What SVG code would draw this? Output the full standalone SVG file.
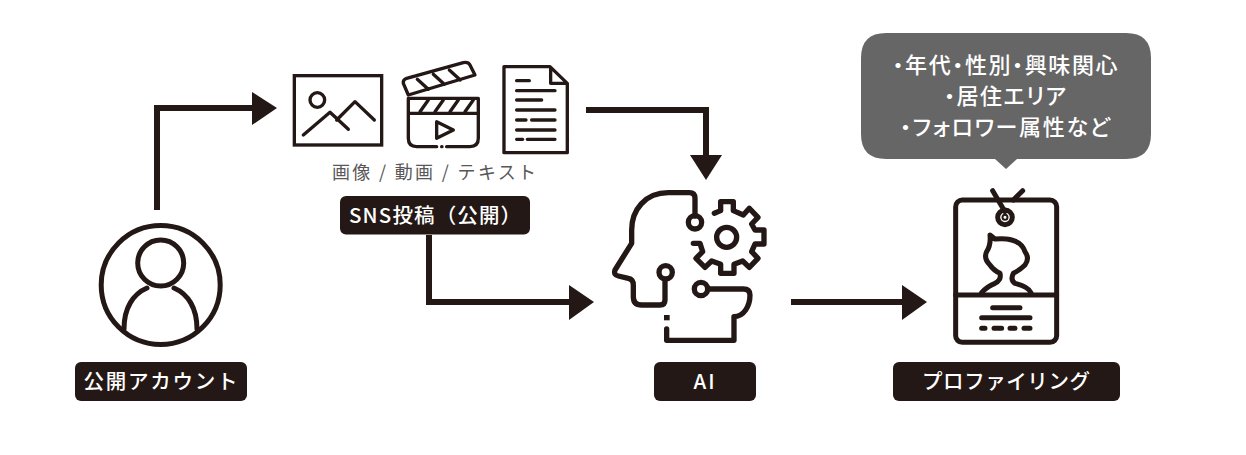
<svg xmlns="http://www.w3.org/2000/svg" width="1246" height="455" viewBox="0 0 1246 455">
<style>
.i{fill:none;stroke:#231815;stroke-linecap:round;stroke-linejoin:round}
.c{fill:none;stroke:#231815;stroke-width:6;stroke-linejoin:miter}
.h{fill:#231815;stroke:none}
.b{fill:#231815}
text{font-family:"Noto Sans CJK JP","Noto Sans",sans-serif}
.l{fill:#fff;font-size:20.500px;font-weight:500;text-anchor:middle}
.t{fill:#fff;font-size:22px;font-weight:500;text-anchor:middle;font-feature-settings:"palt"}
</style>
<rect width="1246" height="455" fill="#fff"/>
<g id="connectors">
<path class="c" d="M157 210V108H255"/><path class="h" d="M252 92L277 108L252 125Z"/>
<path class="c" d="M586 110H706V157"/><path class="h" d="M690 155L706 180L722 155Z"/>
<path class="c" d="M429 235V302H572"/><path class="h" d="M569 285L594 302L569 320Z"/>
<path class="c" d="M791 302H905"/><path class="h" d="M902 285L927 302L902 320Z"/>
</g>
<g id="account">
<g class="i" stroke-width="5"><circle cx="160.700" cy="285" r="59.500"/><circle cx="160.700" cy="263" r="23"/><path d="M124 329C124 308 133 294 147 288M197 329C197 308 188 294 174 288"/></g>
<rect class="b" x="75" y="362" width="172" height="39" rx="6"/>
<text class="l" x="160.500" y="389" textLength="154" lengthAdjust="spacing">公開アカウント</text>
</g>
<g id="sns">
<g transform="translate(280 50) scale(.3333)" class="i" stroke-width="10">
<rect x="43" y="77" width="262" height="208" stroke-linecap="square" stroke-linejoin="miter"/>
<circle cx="112" cy="150" r="22"/><path d="M70 255L150 187L205 238M170 210L225 155L283 210"/>
<path d="M385 145H595V265Q595 290 570 290H500M470 290H410Q385 290 385 265V145M385 190H595M420 185L445 150M465 185L490 150M510 185L535 150M555 185L580 150"/>
<path d="M485 290H486"/>
<path d="M470 215L520 240L470 265Z"/>
<path d="M385 135L370 100Q368 90 380 85L550 38Q565 35 570 45L585 75ZM412 88L445 118M460 73L493 103M508 60L541 90"/>
<path d="M672 50H810L862 100V308H672ZM812 55V100H860M710 92H748M710 122H825M710 150H785M710 180H825M710 210H738M755 210H825M710 240H825M710 268H728M742 268H825"/>
</g>
<text x="434" y="179" fill="#595757" font-size="18" font-weight="400" text-anchor="middle" textLength="204" lengthAdjust="spacing">画像 / 動画 / テキスト</text>
<rect class="b" x="340" y="196" width="190" height="38.500" rx="6"/>
<text class="l" x="435" y="223" textLength="172" lengthAdjust="spacing">SNS投稿（公開）</text>
</g>
<g id="ai">
<g transform="translate(600 180) scale(.3333)" class="i" stroke-width="16">
<path d="M285 108V55Q285 38 268 38H205C135 38 95 90 95 150V190L45 270Q40 285 55 288L85 295Q100 298 100 315V350Q100 375 125 375H180Q195 375 195 360V298"/>
<circle cx="285" cy="127" r="20"/><circle cx="197" cy="277" r="20"/><circle cx="303" cy="327" r="20"/>
<path d="M325 327H430Q450 327 450 345C450 380 430 410 402 410V481H200V447"/>
<path d="M343 100L362 92V65H400V92L430 105L448 85L474 112L455 132L465 150H492V192H465L455 215L474 235L448 262L428 243L402 253V280H362V253L335 243L315 262L288 235L308 215L300 190H280"/>
<circle cx="380" cy="172" r="30"/>
<path d="M200 413H201" stroke-linecap="square"/>
</g>
<rect class="b" x="654" y="362" width="102" height="39" rx="6"/>
<text class="l" x="705" y="389" letter-spacing="2">AI</text>
</g>
<g id="profiling">
<g transform="translate(930 170) scale(.3333)" class="i" stroke-width="15">
<rect x="77" y="90" width="303" height="427" rx="20"/>
<path d="M77 375H380M188 62L225 125M278 62L250 90"/>
<circle cx="225" cy="142" r="22"/><circle cx="225" cy="142" r="3"/>
<path d="M155 368Q170 350 195 340Q215 330 210 310Q190 300 180 285Q160 265 170 245Q183 225 180 195L195 207Q270 200 285 245Q300 265 285 285Q270 300 250 310Q240 330 255 340Q295 350 303 368"/>
<path d="M188 413H270M155 443H300M155 475H165M192 475H215M240 475H255M282 475H300"/>
</g>
<rect class="b" x="893" y="362" width="227" height="39" rx="6"/>
<text class="l" x="1006" y="389" textLength="168" lengthAdjust="spacing">プロファイリング</text>
</g>
<g id="bubble">
<path fill="#666" d="M886 33H1126Q1151 33 1151 58V134Q1151 159 1126 159H1017L1006 169L995 159H886Q861 159 861 134V58Q861 33 886 33Z"/>
<text class="t" x="1005" y="73" textLength="225" lengthAdjust="spacing">・年代・性別・興味関心</text>
<text class="t" x="1005" y="104" textLength="122" lengthAdjust="spacing">・居住エリア</text>
<text class="t" x="1005" y="135" textLength="210" lengthAdjust="spacing">・フォロワー属性など</text>
</g>
</svg>
